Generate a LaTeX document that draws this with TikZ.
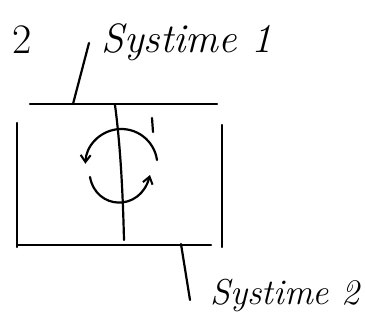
\documentclass[tikz,border=0pt]{standalone}
\usepackage{fontspec}
\usetikzlibrary{arrows.meta}
\tikzset{
  stroke/.style={line width=2.2pt, line cap=round, line join=round},
  hand/.style={font=\fontsize{41}{45}\selectfont\itshape, inner sep=0pt},
  turn/.style={stroke, -{Straight Barb[length=7pt,width=10pt,line width=2pt]}}
}
\begin{document}
\begin{tikzpicture}[x=1pt,y=-1pt]
\useasboundingbox (0,0) rectangle (365,324);
% labels
\node[hand, font=\fontsize{42}{46}\selectfont] (num) at (22,40) {2};
\node[hand] (s1) at (187,42) {Systime 1};
\node[hand, font=\fontsize{36}{40}\selectfont\itshape] (s2) at (285,295) {Systime 2};
% box
\coordinate (tl) at (30,104);
\coordinate (tr) at (217,104);
\coordinate (bl) at (17,245);
\coordinate (br) at (211,245);
\draw[stroke] (tl) -- (tr);
\draw[stroke] (bl) -- (br);
\draw[stroke] (17,123) -- (17,247);
\draw[stroke] (222,125) -- (222,247);
% middle partition
\coordinate (mt) at (115,105);
\coordinate (mb) at (124,240);
\draw[stroke] (mt) .. controls (121,150) and (123,200) .. (mb);
% leaders
\coordinate (l1a) at (89,43);
\coordinate (l1b) at (73,104);
\draw[stroke] (l1a) -- (l1b);
\coordinate (l2a) at (181,244);
\coordinate (l2b) at (190,300);
\draw[stroke] (l2a) -- (l2b);
% rotation arrows
\coordinate (c) at (121,165);
\draw[turn] (157,160) arc[start angle=-8, end angle=-178, radius=36];
\draw[turn] (90,177) .. controls (96,210) and (140,212) .. (150,175);
% tick
\draw[stroke] (152,118) -- (153,132);
\end{tikzpicture}
\end{document}
